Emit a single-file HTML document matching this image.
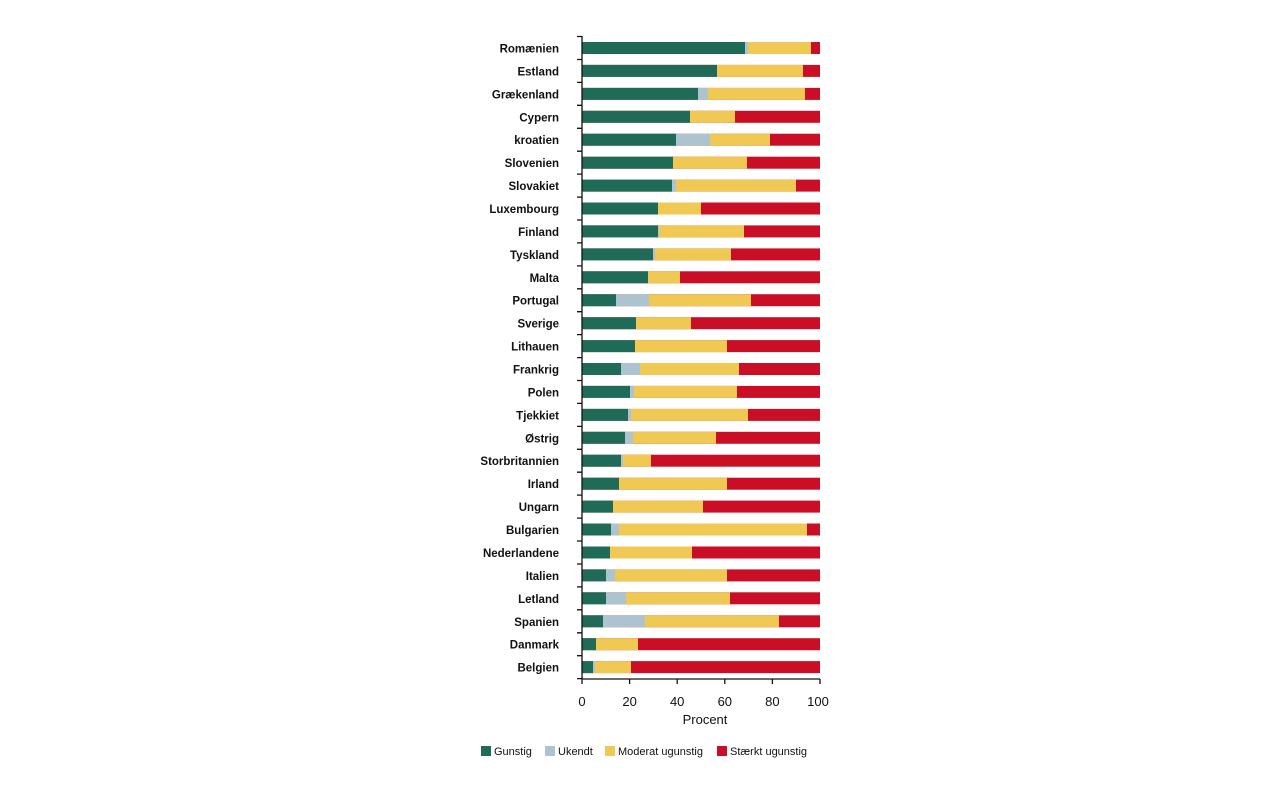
<!DOCTYPE html>
<html><head><meta charset="utf-8"><style>
body{margin:0;background:#fff;width:1280px;height:800px;overflow:hidden}
svg{display:block;font-family:"Liberation Sans",sans-serif}
.l{font-size:11.5px;font-weight:bold;text-anchor:end;fill:#111}
.t{font-size:13px;text-anchor:middle;fill:#111}
.g{fill:#1f6b58}.u{fill:#adc4d0}.y{fill:#f0c955}.r{fill:#c90e26}
</style></head><body>
<svg width="1280" height="800" viewBox="0 0 1280 800">
<defs></defs>
<g id="bars">
<g transform="translate(0,48)"><text class="l" x="559" y="4.5">Romænien</text><rect class="r" x="582" y="-6" width="238" height="12"/><rect class="y" x="582" y="-6" width="229" height="12"/><rect class="u" x="582" y="-6" width="166" height="12"/><rect class="g" x="582" y="-6" width="163" height="12"/></g>
<g transform="translate(0,70.9)"><text class="l" x="559" y="4.5">Estland</text><rect class="r" x="582" y="-6" width="238" height="12"/><rect class="y" x="582" y="-6" width="221" height="12"/><rect class="g" x="582" y="-6" width="135" height="12"/></g>
<g transform="translate(0,93.9)"><text class="l" x="559" y="4.5">Grækenland</text><rect class="r" x="582" y="-6" width="238" height="12"/><rect class="y" x="582" y="-6" width="223" height="12"/><rect class="u" x="582" y="-6" width="126" height="12"/><rect class="g" x="582" y="-6" width="116" height="12"/></g>
<g transform="translate(0,116.8)"><text class="l" x="559" y="4.5">Cypern</text><rect class="r" x="582" y="-6" width="238" height="12"/><rect class="y" x="582" y="-6" width="153" height="12"/><rect class="g" x="582" y="-6" width="108" height="12"/></g>
<g transform="translate(0,139.7)"><text class="l" x="559" y="4.5">kroatien</text><rect class="r" x="582" y="-6" width="238" height="12"/><rect class="y" x="582" y="-6" width="188" height="12"/><rect class="u" x="582" y="-6" width="128" height="12"/><rect class="g" x="582" y="-6" width="94" height="12"/></g>
<g transform="translate(0,162.7)"><text class="l" x="559" y="4.5">Slovenien</text><rect class="r" x="582" y="-6" width="238" height="12"/><rect class="y" x="582" y="-6" width="165" height="12"/><rect class="g" x="582" y="-6" width="91" height="12"/></g>
<g transform="translate(0,185.6)"><text class="l" x="559" y="4.5">Slovakiet</text><rect class="r" x="582" y="-6" width="238" height="12"/><rect class="y" x="582" y="-6" width="214" height="12"/><rect class="u" x="582" y="-6" width="94" height="12"/><rect class="g" x="582" y="-6" width="90" height="12"/></g>
<g transform="translate(0,208.5)"><text class="l" x="559" y="4.5">Luxembourg</text><rect class="r" x="582" y="-6" width="238" height="12"/><rect class="y" x="582" y="-6" width="119" height="12"/><rect class="g" x="582" y="-6" width="76" height="12"/></g>
<g transform="translate(0,231.4)"><text class="l" x="559" y="4.5">Finland</text><rect class="r" x="582" y="-6" width="238" height="12"/><rect class="y" x="582" y="-6" width="162" height="12"/><rect class="u" x="582" y="-6" width="77" height="12"/><rect class="g" x="582" y="-6" width="76" height="12"/></g>
<g transform="translate(0,254.4)"><text class="l" x="559" y="4.5">Tyskland</text><rect class="r" x="582" y="-6" width="238" height="12"/><rect class="y" x="582" y="-6" width="149" height="12"/><rect class="u" x="582" y="-6" width="73" height="12"/><rect class="g" x="582" y="-6" width="71" height="12"/></g>
<g transform="translate(0,277.3)"><text class="l" x="559" y="4.5">Malta</text><rect class="r" x="582" y="-6" width="238" height="12"/><rect class="y" x="582" y="-6" width="98" height="12"/><rect class="g" x="582" y="-6" width="66" height="12"/></g>
<g transform="translate(0,300.2)"><text class="l" x="559" y="4.5">Portugal</text><rect class="r" x="582" y="-6" width="238" height="12"/><rect class="y" x="582" y="-6" width="169" height="12"/><rect class="u" x="582" y="-6" width="67" height="12"/><rect class="g" x="582" y="-6" width="34" height="12"/></g>
<g transform="translate(0,323.2)"><text class="l" x="559" y="4.5">Sverige</text><rect class="r" x="582" y="-6" width="238" height="12"/><rect class="y" x="582" y="-6" width="109" height="12"/><rect class="g" x="582" y="-6" width="54" height="12"/></g>
<g transform="translate(0,346.1)"><text class="l" x="559" y="4.5">Lithauen</text><rect class="r" x="582" y="-6" width="238" height="12"/><rect class="y" x="582" y="-6" width="145" height="12"/><rect class="g" x="582" y="-6" width="53" height="12"/></g>
<g transform="translate(0,369)"><text class="l" x="559" y="4.5">Frankrig</text><rect class="r" x="582" y="-6" width="238" height="12"/><rect class="y" x="582" y="-6" width="157" height="12"/><rect class="u" x="582" y="-6" width="58" height="12"/><rect class="g" x="582" y="-6" width="39" height="12"/></g>
<g transform="translate(0,391.9)"><text class="l" x="559" y="4.5">Polen</text><rect class="r" x="582" y="-6" width="238" height="12"/><rect class="y" x="582" y="-6" width="155" height="12"/><rect class="u" x="582" y="-6" width="52" height="12"/><rect class="g" x="582" y="-6" width="48" height="12"/></g>
<g transform="translate(0,414.9)"><text class="l" x="559" y="4.5">Tjekkiet</text><rect class="r" x="582" y="-6" width="238" height="12"/><rect class="y" x="582" y="-6" width="166" height="12"/><rect class="u" x="582" y="-6" width="49" height="12"/><rect class="g" x="582" y="-6" width="46" height="12"/></g>
<g transform="translate(0,437.8)"><text class="l" x="559" y="4.5">Østrig</text><rect class="r" x="582" y="-6" width="238" height="12"/><rect class="y" x="582" y="-6" width="134" height="12"/><rect class="u" x="582" y="-6" width="51" height="12"/><rect class="g" x="582" y="-6" width="43" height="12"/></g>
<g transform="translate(0,460.7)"><text class="l" x="559" y="4.5">Storbritannien</text><rect class="r" x="582" y="-6" width="238" height="12"/><rect class="y" x="582" y="-6" width="69" height="12"/><rect class="u" x="582" y="-6" width="41" height="12"/><rect class="g" x="582" y="-6" width="39" height="12"/></g>
<g transform="translate(0,483.7)"><text class="l" x="559" y="4.5">Irland</text><rect class="r" x="582" y="-6" width="238" height="12"/><rect class="y" x="582" y="-6" width="145" height="12"/><rect class="g" x="582" y="-6" width="37" height="12"/></g>
<g transform="translate(0,506.6)"><text class="l" x="559" y="4.5">Ungarn</text><rect class="r" x="582" y="-6" width="238" height="12"/><rect class="y" x="582" y="-6" width="121" height="12"/><rect class="g" x="582" y="-6" width="31" height="12"/></g>
<g transform="translate(0,529.5)"><text class="l" x="559" y="4.5">Bulgarien</text><rect class="r" x="582" y="-6" width="238" height="12"/><rect class="y" x="582" y="-6" width="225" height="12"/><rect class="u" x="582" y="-6" width="37" height="12"/><rect class="g" x="582" y="-6" width="29" height="12"/></g>
<g transform="translate(0,552.5)"><text class="l" x="559" y="4.5">Nederlandene</text><rect class="r" x="582" y="-6" width="238" height="12"/><rect class="y" x="582" y="-6" width="110" height="12"/><rect class="g" x="582" y="-6" width="28" height="12"/></g>
<g transform="translate(0,575.4)"><text class="l" x="559" y="4.5">Italien</text><rect class="r" x="582" y="-6" width="238" height="12"/><rect class="y" x="582" y="-6" width="145" height="12"/><rect class="u" x="582" y="-6" width="33" height="12"/><rect class="g" x="582" y="-6" width="24" height="12"/></g>
<g transform="translate(0,598.3)"><text class="l" x="559" y="4.5">Letland</text><rect class="r" x="582" y="-6" width="238" height="12"/><rect class="y" x="582" y="-6" width="148" height="12"/><rect class="u" x="582" y="-6" width="44" height="12"/><rect class="g" x="582" y="-6" width="24" height="12"/></g>
<g transform="translate(0,621.3)"><text class="l" x="559" y="4.5">Spanien</text><rect class="r" x="582" y="-6" width="238" height="12"/><rect class="y" x="582" y="-6" width="197" height="12"/><rect class="u" x="582" y="-6" width="63" height="12"/><rect class="g" x="582" y="-6" width="21" height="12"/></g>
<g transform="translate(0,644.2)"><text class="l" x="559" y="4.5">Danmark</text><rect class="r" x="582" y="-6" width="238" height="12"/><rect class="y" x="582" y="-6" width="56" height="12"/><rect class="g" x="582" y="-6" width="14" height="12"/></g>
<g transform="translate(0,667.1)"><text class="l" x="559" y="4.5">Belgien</text><rect class="r" x="582" y="-6" width="238" height="12"/><rect class="y" x="582" y="-6" width="49" height="12"/><rect class="u" x="582" y="-6" width="13" height="12"/><rect class="g" x="582" y="-6" width="11" height="12"/></g>
</g>
<g stroke="#111" stroke-width="1.3" fill="none">
<path d="M582,36V679H820"/>
<path d="M577,36.5H582M577,59.5H582M577,82.4H582M577,105.3H582M577,128.3H582M577,151.2H582M577,174.1H582M577,197.1H582M577,220H582M577,242.9H582M577,265.9H582M577,288.8H582M577,311.7H582M577,334.6H582M577,357.6H582M577,380.5H582M577,403.4H582M577,426.4H582M577,449.3H582M577,472.2H582M577,495.1H582M577,518.1H582M577,541H582M577,564H582M577,586.9H582M577,609.8H582M577,632.8H582M577,655.7H582M577,678.6H582"/>
<path d="M582,679v5M629.6,679v5M677.2,679v5M724.8,679v5M772.4,679v5M820,679v5"/>
</g>
<g class="t">
<text class="t" x="582" y="706">0</text><text class="t" x="629.6" y="706">20</text><text class="t" x="677.2" y="706">40</text><text class="t" x="724.8" y="706">60</text><text class="t" x="772.4" y="706">80</text><text class="t" x="818" y="706">100</text>
<text class="t" x="705" y="724">Procent</text>
</g>
<g font-size="11" fill="#111">
<rect class="g" x="481" y="746" width="10" height="10"/><text x="494" y="755">Gunstig</text>
<rect class="u" x="545" y="746" width="10" height="10"/><text x="558" y="755">Ukendt</text>
<rect class="y" x="605" y="746" width="10" height="10"/><text x="618" y="755">Moderat ugunstig</text>
<rect class="r" x="717" y="746" width="10" height="10"/><text x="730" y="755">Stærkt ugunstig</text>
</g>
</svg>
</body></html>
